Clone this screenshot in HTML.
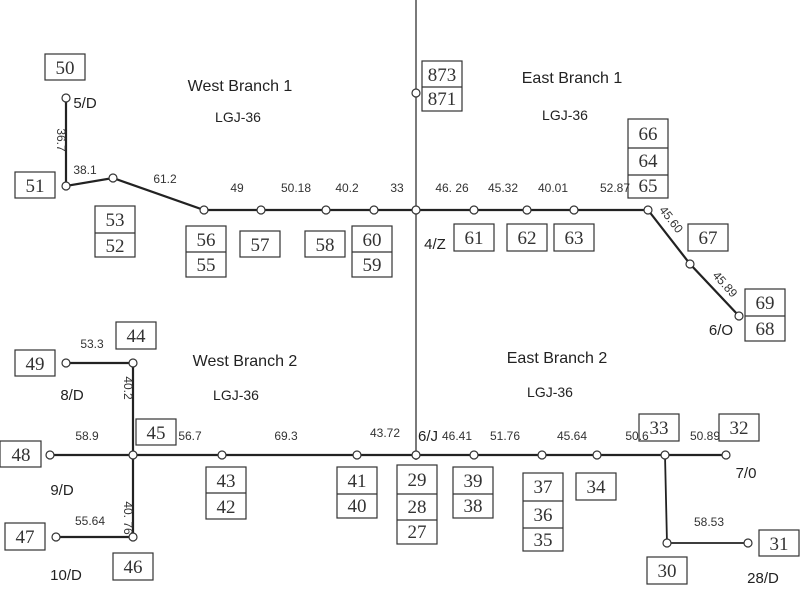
<!DOCTYPE html>
<html><head><meta charset="utf-8"><style>
body{margin:0;background:#fff}
svg text{font-family:"Liberation Sans",sans-serif}
.b{fill:#fff;stroke:#333;stroke-width:1.2}
.n{fill:#fff;stroke:#333;stroke-width:1.2}
.l{stroke:#222;stroke-width:2.2;fill:none}
.t text{font-family:"Liberation Serif",serif;font-size:19px;fill:#333;text-anchor:middle}
.d text{font-size:12px;fill:#333;text-anchor:middle}
.h text{font-size:16px;fill:#222;text-anchor:middle}
.s text{font-size:14px;fill:#222;text-anchor:middle}
.g text{font-size:15px;fill:#222;text-anchor:middle}
</style></head><body>
<svg width="800" height="600" viewBox="0 0 800 600" xmlns="http://www.w3.org/2000/svg">
<line x1="416" y1="0" x2="416" y2="460" stroke="#333" stroke-width="1.3"/>
<polyline class="l" points="66,98 66,186 113,178 204,210 648,210"/>
<polyline class="l" points="648,210 690,264 739,316"/>
<line class="l" x1="50" y1="455" x2="726" y2="455"/>
<polyline class="l" points="66,363 133,363 133,537 56,537"/>
<polyline class="l" points="665,455 667,543 748,543" style="stroke-width:1.8"/>
<g class="n">
<circle cx="66" cy="98" r="4"/><circle cx="66" cy="186" r="4"/><circle cx="113" cy="178" r="4"/>
<circle cx="204" cy="210" r="4"/><circle cx="261" cy="210" r="4"/><circle cx="326" cy="210" r="4"/>
<circle cx="374" cy="210" r="4"/><circle cx="416" cy="210" r="4"/><circle cx="416" cy="93" r="4"/>
<circle cx="474" cy="210" r="4"/><circle cx="527" cy="210" r="4"/><circle cx="574" cy="210" r="4"/>
<circle cx="648" cy="210" r="4"/><circle cx="690" cy="264" r="4"/><circle cx="739" cy="316" r="4"/>
<circle cx="66" cy="363" r="4"/><circle cx="133" cy="363" r="4"/><circle cx="50" cy="455" r="4"/>
<circle cx="133" cy="455" r="4"/><circle cx="222" cy="455" r="4"/><circle cx="357" cy="455" r="4"/>
<circle cx="416" cy="455" r="4"/><circle cx="474" cy="455" r="4"/><circle cx="542" cy="455" r="4"/>
<circle cx="597" cy="455" r="4"/><circle cx="665" cy="455" r="4"/><circle cx="726" cy="455" r="4"/>
<circle cx="56" cy="537" r="4"/><circle cx="133" cy="537" r="4"/><circle cx="667" cy="543" r="4"/>
<circle cx="748" cy="543" r="4"/>
</g>
<g class="b">
<rect x="45" y="54" width="40" height="26"/><rect x="15" y="172" width="40" height="26"/>
<rect x="95" y="206" width="40" height="51"/><line x1="95" y1="233" x2="135" y2="233"/>
<rect x="186" y="226" width="40" height="51"/><line x1="186" y1="252" x2="226" y2="252"/>
<rect x="240" y="231" width="40" height="26"/><rect x="305" y="231" width="40" height="26"/>
<rect x="352" y="226" width="40" height="51"/><line x1="352" y1="252" x2="392" y2="252"/>
<rect x="422" y="61" width="40" height="50"/><line x1="422" y1="87" x2="462" y2="87"/>
<rect x="454" y="224" width="40" height="27"/><rect x="507" y="224" width="40" height="27"/><rect x="554" y="224" width="40" height="27"/>
<rect x="628" y="119" width="40" height="79"/><line x1="628" y1="148" x2="668" y2="148"/><line x1="628" y1="175" x2="668" y2="175"/>
<rect x="688" y="224" width="40" height="27"/>
<rect x="745" y="289" width="40" height="52"/><line x1="745" y1="316" x2="785" y2="316"/>
<rect x="116" y="322" width="40" height="27"/><rect x="15" y="350" width="40" height="26"/>
<rect x="136" y="419" width="40" height="26"/><rect x="0" y="441" width="41" height="26"/>
<rect x="5" y="523" width="40" height="27"/><rect x="113" y="553" width="40" height="27"/>
<rect x="206" y="467" width="40" height="52"/><line x1="206" y1="493" x2="246" y2="493"/>
<rect x="337" y="467" width="40" height="51"/><line x1="337" y1="494" x2="377" y2="494"/>
<rect x="397" y="465" width="40" height="79"/><line x1="397" y1="494" x2="437" y2="494"/><line x1="397" y1="520" x2="437" y2="520"/>
<rect x="453" y="467" width="40" height="51"/><line x1="453" y1="494" x2="493" y2="494"/>
<rect x="523" y="473" width="40" height="78"/><line x1="523" y1="501" x2="563" y2="501"/><line x1="523" y1="528" x2="563" y2="528"/>
<rect x="576" y="473" width="40" height="27"/>
<rect x="639" y="414" width="40" height="27"/><rect x="719" y="414" width="40" height="27"/>
<rect x="759" y="530" width="40" height="26"/><rect x="647" y="557" width="40" height="27"/>
</g>
<g class="t">
<text x="65" y="74">50</text><text x="35" y="192">51</text>
<text x="115" y="226">53</text><text x="115" y="252">52</text>
<text x="206" y="246">56</text><text x="206" y="271">55</text>
<text x="260" y="251">57</text><text x="325" y="251">58</text>
<text x="372" y="246">60</text><text x="372" y="271">59</text>
<text x="442" y="81">873</text><text x="442" y="105">871</text>
<text x="474" y="244">61</text><text x="527" y="244">62</text><text x="574" y="244">63</text>
<text x="648" y="140">66</text><text x="648" y="167">64</text><text x="648" y="192">65</text>
<text x="708" y="244">67</text>
<text x="765" y="309">69</text><text x="765" y="335">68</text>
<text x="136" y="342">44</text><text x="35" y="370">49</text>
<text x="156" y="439">45</text><text x="21" y="461">48</text>
<text x="25" y="543">47</text><text x="133" y="573">46</text>
<text x="226" y="487">43</text><text x="226" y="513">42</text>
<text x="357" y="487">41</text><text x="357" y="512">40</text>
<text x="417" y="486">29</text><text x="417" y="513">28</text><text x="417" y="538">27</text>
<text x="473" y="487">39</text><text x="473" y="512">38</text>
<text x="543" y="493">37</text><text x="543" y="521">36</text><text x="543" y="546">35</text>
<text x="596" y="493">34</text>
<text x="659" y="434">33</text><text x="739" y="434">32</text>
<text x="779" y="550">31</text><text x="667" y="577">30</text>
</g>
<g class="d">
<text x="85" y="174">38.1</text><text x="165" y="183">61.2</text><text x="237" y="192">49</text>
<text x="296" y="192">50.18</text><text x="347" y="192">40.2</text><text x="397" y="192">33</text>
<text x="452" y="192">46. 26</text><text x="503" y="192">45.32</text><text x="553" y="192">40.01</text><text x="615" y="192">52.87</text>
<text x="668" y="222" transform="rotate(52 668 222)">45.60</text>
<text x="722" y="287" transform="rotate(48 722 287)">45.89</text>
<text x="57" y="140" transform="rotate(90 57 140)">36.7</text>
<text x="92" y="348">53.3</text><text x="87" y="440">58.9</text><text x="190" y="440">56.7</text>
<text x="286" y="440">69.3</text><text x="385" y="437">43.72</text>
<text x="90" y="525">55.64</text>
<text x="124" y="388" transform="rotate(90 124 388)">40.2</text>
<text x="124" y="518" transform="rotate(90 124 518)">40. 76</text>
<text x="457" y="440">46.41</text><text x="505" y="440">51.76</text><text x="572" y="440">45.64</text>
<text x="637" y="440">50.6</text><text x="705" y="440">50.89</text><text x="709" y="526">58.53</text>
</g>
<g class="g">
<text x="85" y="108">5/D</text><text x="435" y="249">4/Z</text><text x="721" y="335">6/O</text>
<text x="72" y="400">8/D</text><text x="62" y="495">9/D</text><text x="66" y="580">10/D</text>
<text x="428" y="441">6/J</text><text x="746" y="478">7/0</text><text x="763" y="583">28/D</text>
</g>
<g class="h">
<text x="240" y="91">West Branch 1</text><text x="572" y="83">East Branch 1</text>
<text x="245" y="366">West Branch 2</text><text x="557" y="363">East Branch 2</text>
</g>
<g class="s">
<text x="238" y="122">LGJ-36</text><text x="565" y="120">LGJ-36</text>
<text x="236" y="400">LGJ-36</text><text x="550" y="397">LGJ-36</text>
</g>
</svg>
</body></html>
